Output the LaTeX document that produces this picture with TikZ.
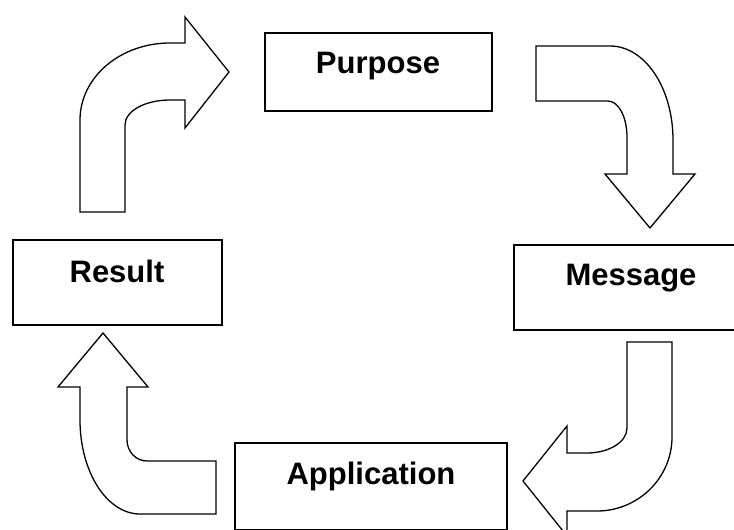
\documentclass[tikz,border=0pt]{standalone}
\usepackage{fontspec}
\setmainfont{Liberation Sans}
\begin{document}
\begin{tikzpicture}[x=1pt,y=-1pt,
  box/.style={draw=black,line width=1.6pt,fill=white,rectangle,inner sep=0pt},
  lbl/.style={font=\fontsize{31}{36}\selectfont\bfseries,anchor=base,inner sep=0pt},
  bentarrow/.style={draw=black,line width=1.3pt,fill=white,line join=miter}]
\useasboundingbox (0,0) rectangle (734,530);
\clip (0,0) rectangle (734,530);
\fill[white] (0,0) rectangle (734,530);
% boxes
\node[box,minimum width=227pt,minimum height=78pt] (purpose) at (378.5,72) {};
\node[box,minimum width=209pt,minimum height=85pt] (result) at (117.5,282.5) {};
\node[box,minimum width=226pt,minimum height=85pt] (message) at (627,287.5) {};
\node[box,minimum width=272pt,minimum height=86.5pt] (application) at (371,486.25) {};
% labels
\node[lbl] (tpurpose) at (378,73) {Purpose};
\node[lbl] (tresult) at (117,282) {Result};
\node[lbl] (tmessage) at (631,285) {Message};
\node[lbl] (tapplication) at (371,484) {Application};
% bent arrows
\path[bentarrow] (80,212) -- (80,120) .. controls (80,77.5) and (120,43) .. (170,43)
  -- (185,43) -- (185,17) -- (229,72) -- (185,128) -- (185,100) -- (170,100)
  .. controls (145,100) and (125,111) .. (125,125) -- (125,212) -- cycle;
\path[bentarrow] (536,46) -- (610,46) .. controls (645,46) and (673,88) .. (673,140)
  -- (673,174) -- (695,174) -- (650,228) -- (605,174) -- (627,174) -- (627,137)
  .. controls (627,117) and (618.5,101) .. (608,101) -- (536,101) -- cycle;
\path[bentarrow] (627,342) -- (672,342) -- (672,437) .. controls (672,478) and (638,511) .. (597,511)
  -- (567,511) -- (567,536) -- (523,481) -- (567,426) -- (567,453) -- (587,453)
  .. controls (609,453) and (627,442) .. (627,428) -- cycle;
\path[bentarrow] (216,461) -- (216,514) -- (140,514) .. controls (107,514) and (80,472) .. (80,420)
  -- (80,387) -- (58,387) -- (103,333) -- (148,387) -- (127,387) -- (127,440)
  .. controls (127,451.6) and (136,461) .. (147,461) -- cycle;
\end{tikzpicture}
\end{document}
